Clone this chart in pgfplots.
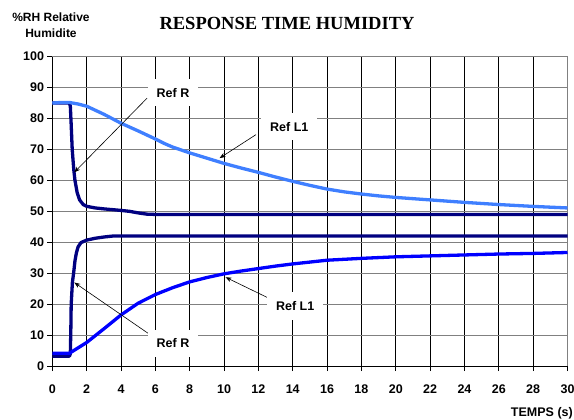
\documentclass[border=0pt]{standalone}
\usepackage{fontspec}
\setmainfont{Liberation Sans}
\newfontfamily\serifbold{Liberation Serif}
\usepackage{pgfplots}
\pgfplotsset{compat=1.18}
\usetikzlibrary{arrows.meta}
\definecolor{navyR}{HTML}{000080}
\definecolor{lightL}{HTML}{3F7FFF}
\definecolor{blueL}{HTML}{0000FF}
\begin{document}
\begin{tikzpicture}
\path[use as bounding box] (0,0) rectangle (574bp,420bp);
\begin{axis}[
  at={(52.3bp,54bp)}, anchor=south west,
  scale only axis, width=515.2bp, height=309.3bp,
  xmin=0, xmax=30, ymin=0, ymax=100,
  xtick={0,2,...,30}, ytick={0,10,...,100},
  axis lines=left, axis line style={-, black, line width=0.8bp},
  tick align=outside, major tick length=5bp,
  tick style={black, line width=0.8bp},
  xmajorgrids, ymajorgrids,
  x grid style={black, line width=0.7bp},
  y grid style={gray, line width=0.9bp},
  /pgf/number format/assume math mode=true,
  ticklabel style={font=\bfseries\fontsize{12.5bp}{14bp}\selectfont, inner sep=0pt},
  xticklabel style={anchor=base, yshift=-22bp},
  yticklabel style={anchor=east, xshift=-3bp},
  clip=false,
]
\draw[gray, line width=0.9bp] (axis cs:30,0) -- (axis cs:30,100);

% Ref R (down)
\addplot[navyR, line width=3.3bp, line join=round] coordinates {
(0,85) (1.0,85) (1.05,84) (1.1,78) (1.16,70) (1.25,63.5) (1.32,60) (1.45,56)
(1.59,53.7) (1.8,52.2) (2.02,51.6) (2.5,51.1) (3,50.8) (4,50.3) (4.5,50)
(5,49.5) (5.5,49.1) (6,49) (30,49)};
% Ref R (up)
\addplot[navyR, line width=3.3bp, line join=round] coordinates {
(0,3.2) (1.0,3.2) (1.05,4) (1.08,12) (1.1,20) (1.17,27) (1.24,30) (1.32,34)
(1.4,36.5) (1.5,38.5) (1.67,39.9) (2.0,40.7) (2.5,41.3) (3,41.7) (3.5,42) (30,42)};
% Ref L1 (down)
\addplot[lightL, line width=3.3bp, line join=round] coordinates {
(0,85) (0.5,85.2) (1,85.2) (1.5,84.7) (2,84) (3,81.4) (4,78.5) (5,76) (6,73.4)
(6.5,72) (7,70.8) (8,68.9) (9,67.2) (10,65.5) (11,64) (12,62.6) (13,61.1)
(14,59.7) (15,58.4) (16,57.2) (17,56.3) (18,55.6) (19,55) (20,54.5) (22,53.7)
(24,52.9) (26,52.2) (28,51.6) (30,51.1)};
% Ref L1 (up)
\addplot[blueL, line width=3.3bp, line join=round] coordinates {
(0,4.1) (1,4.1) (1.05,4.3) (2,7.6) (3,12) (4,16.5) (5,20.3) (6,23.1) (7,25.3)
(8,27.2) (9,28.6) (10,29.8) (11,30.7) (12,31.5) (13,32.3) (14,33) (16,34.2)
(18,34.8) (20,35.3) (22,35.6) (24,35.9) (26,36.2) (28,36.4) (30,36.7)};

% annotations
\tikzset{lab/.style={fill=white, font=\bfseries\fontsize{12.5bp}{14bp}\selectfont, inner xsep=9bp, inner ysep=9bp},
         arr/.style={black, line width=0.6bp, -{Stealth[length=6bp,width=4.5bp]}}}
\draw[arr] (axis cs:5.52,86.6) -- (axis cs:1.28,62.6);
\node[lab] at (axis cs:7.03,88.3) {Ref R};
\draw[arr] (axis cs:11.86,74.8) -- (axis cs:9.74,67.2);
\node[lab] at (axis cs:13.8,77.3) {Ref L1};
\draw[arr] (axis cs:5.57,10.6) -- (axis cs:1.28,27);
\node[lab] at (axis cs:7.03,7.4) {Ref R};
\draw[arr] (axis cs:12.5,22.2) -- (axis cs:10.09,28.7);
\node[lab] at (axis cs:14.14,19.4) {Ref L1};
\end{axis}
\node[font=\serifbold\bfseries\fontsize{18.5bp}{20bp}\selectfont] at (287bp,396.7bp) {RESPONSE TIME HUMIDITY};
\node[font=\bfseries\fontsize{12bp}{16bp}\selectfont, align=center] at (51bp,394.7bp) {\%RH Relative\\Humidite};
\node[font=\bfseries\fontsize{12.5bp}{14bp}\selectfont, anchor=east, inner sep=0pt] at (573bp,7bp) {TEMPS (s)};
\end{tikzpicture}
\end{document}
